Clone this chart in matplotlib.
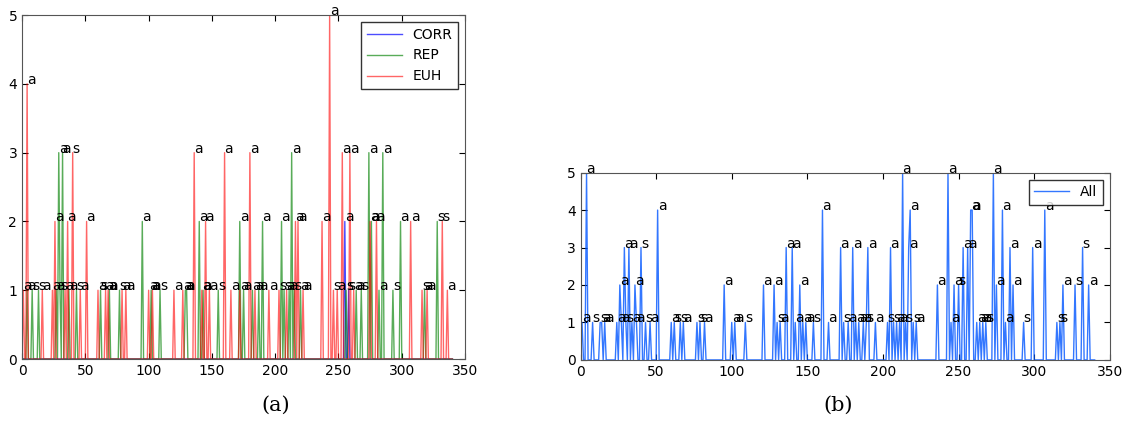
import numpy as np
import matplotlib
matplotlib.use("Agg")
import matplotlib.pyplot as plt

# event positions, heights and labels
euh_x = [1, 4, 16, 24, 26, 34, 36, 40, 46, 51, 60, 66, 68, 79, 82, 100, 103, 120, 127,
         136, 142, 145, 148, 160, 165, 172, 180, 184, 195, 203, 209, 216, 218, 222,
         237, 243, 246, 249, 253, 259, 262, 275, 280, 307, 316, 320, 332, 336]
euh_h = [1, 4, 1, 1, 2, 1, 2, 3, 1, 2, 1, 1, 1, 1, 1, 1, 1, 1, 1,
         3, 1, 2, 1, 3, 1, 1, 3, 1, 1, 1, 1, 2, 2, 1,
         2, 5, 1, 1, 3, 3, 1, 2, 2, 2, 1, 1, 2, 1]
euh_lab = ["a", "a", "a", "a", "a", "a", "a", "s", "a", "a", "a", "a", "a", "a", "a", "a", "a", "a", "a",
           "a", "a", "a", "a", "a", "a", "a", "a", "a", "a", "s", "a", "a", "a", "a",
           "a", "a", "s", "a", "a", "a", "a", "a", "a", "a", "s", "a", "s", "a"]

rep_x = [4, 8, 13, 27, 29, 30, 32, 37, 43, 62, 69, 77, 95, 102, 109, 129, 130, 140, 143,
         155, 172, 175, 182, 187, 190, 205, 207, 211, 213, 215, 220, 256, 264, 268,
         274, 276, 282, 285, 293, 299, 318, 328]
rep_h = [1, 1, 1, 1, 3, 1, 3, 1, 1, 1, 1, 1, 2, 1, 1, 1, 1, 2, 1,
         1, 2, 1, 1, 1, 2, 2, 1, 1, 3, 1, 1, 1, 1, 1,
         3, 2, 1, 3, 1, 2, 1, 2]
rep_lab = ["a", "s", "s", "a", "a", "s", "a", "a", "s", "s", "a", "s", "a", "a", "s", "a", "a", "a", "a",
           "s", "a", "a", "a", "a", "a", "a", "s", "a", "a", "s", "a", "s", "a", "s",
           "a", "a", "a", "a", "s", "a", "a", "s"]

corr_x = [255, 258]
corr_h = [2, 1]
corr_lab = ["a", "s"]

all_x = [1, 4, 8, 13, 14, 16, 24, 26, 27, 29, 30, 32, 34, 36, 37, 40, 43, 46, 51,
         60, 62, 66, 68, 77, 79, 82, 95, 100, 102, 109, 121, 128, 130, 132, 136, 140,
         142, 145, 147, 149, 154, 160, 164, 172, 174, 177, 180, 182, 184, 187, 189, 190,
         195, 203, 205, 207, 209, 211, 213, 215, 217, 218, 220, 222, 236, 243, 245, 247,
         250, 253, 256, 258, 259, 262, 264, 266, 268, 273, 275, 279, 281, 284, 286, 293,
         299, 307, 315, 317, 319, 327, 332, 336]
all_h = [1, 5, 1, 1, 1, 1, 1, 2, 1, 3, 1, 3, 1, 2, 1, 3, 1, 1, 4,
         1, 1, 1, 1, 1, 1, 1, 2, 1, 1, 1, 2, 2, 1, 1, 3, 3,
         1, 2, 1, 1, 1, 4, 1, 3, 1, 1, 3, 1, 1, 1, 1, 3,
         1, 1, 3, 1, 1, 1, 5, 1, 3, 4, 1, 1, 2, 5, 1, 2,
         2, 3, 3, 4, 4, 1, 1, 1, 1, 5, 2, 4, 1, 3, 2, 1,
         3, 4, 1, 1, 2, 2, 3, 2]
all_lab = ["a", "a", "s", "s", "a", "a", "a", "a", "a", "a", "s", "a", "a", "a", "a", "s", "s", "a", "a",
           "a", "s", "s", "a", "s", "s", "a", "a", "a", "a", "s", "a", "a", "s", "a", "a", "a",
           "a", "a", "a", "a", "s", "a", "a", "a", "s", "a", "a", "a", "a", "a", "s", "a",
           "a", "s", "a", "s", "a", "a", "a", "s", "a", "a", "s", "a", "a", "a", "a", "a",
           "s", "a", "a", "a", "a", "a", "a", "a", "s", "a", "a", "a", "a", "a", "a", "s",
           "a", "a", "s", "s", "a", "s", "s", "a"]

t = np.arange(0, 341)


def spikes(xs, hs):
    y = np.zeros(len(t))
    for x, h in zip(xs, hs):
        y[x] = h
    return y


def style(ax):
    ax.set_xlim(0, 350)
    ax.set_ylim(0, 5)
    ax.set_xticks(range(0, 351, 50))
    ax.set_yticks(range(0, 6))
    ax.tick_params(direction="in", top=True, right=True, labelsize=10, length=4)
    for s in ax.spines.values():
        s.set_color("#555555")


fig = plt.figure(figsize=(11.25, 4.3), dpi=100)

ax1 = fig.add_axes([0.0196, 0.165, 0.3938, 0.800])
ax1.plot(t, spikes(corr_x, corr_h), color="b", alpha=0.7, lw=1, label="CORR")
ax1.plot(t, spikes(rep_x, rep_h), color="g", alpha=0.65, lw=1, label="REP")
ax1.plot(t, spikes(euh_x, euh_h), color="r", alpha=0.6, lw=1, label="EUH")
for xs, hs, labs in [(corr_x, corr_h, corr_lab), (rep_x, rep_h, rep_lab), (euh_x, euh_h, euh_lab)]:
    for x, h, l in zip(xs, hs, labs):
        ax1.text(x, h, l, fontsize=10)
style(ax1)
leg = ax1.legend(loc="upper right", fontsize=10, fancybox=False, handlelength=2.5)
leg.get_frame().set_edgecolor("black")

ax2 = fig.add_axes([0.516, 0.163, 0.4705, 0.4356])
ax2.plot(t, spikes(all_x, all_h), color="#0055ff", alpha=0.8, lw=1, label="All")
for x, h, l in zip(all_x, all_h, all_lab):
    ax2.text(x, h, l, fontsize=10)
style(ax2)
leg2 = ax2.legend(loc="upper right", fontsize=10, fancybox=False, handlelength=2.5)
leg2.get_frame().set_edgecolor("black")

fig.text(0.245, 0.045, "(a)", family="DejaVu Serif", fontsize=15, ha="center")
fig.text(0.745, 0.045, "(b)", family="DejaVu Serif", fontsize=15, ha="center")

fig.savefig("out.png", dpi=100)
